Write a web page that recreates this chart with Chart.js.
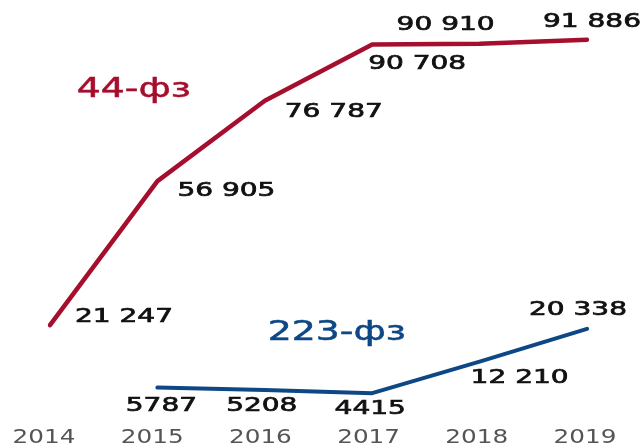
<!DOCTYPE html>
<html lang="ru">
<head>
<meta charset="utf-8">
<script src="https://cdn.jsdelivr.net/npm/chart.js@4"></script>
<style>
  html, body { margin: 0; padding: 0; background: #fff; }
  #wrap { width: 644px; height: 448px; position: relative; }
</style>
</head>
<body>
<div id="wrap"><canvas id="chart"></canvas></div>
<script>
// Годы
const years = ['2014', '2015', '2016', '2017', '2018', '2019'];
// Количество по 44-ФЗ
const fz44 = [21247, 56905, 76787, 90708, 90910, 91886];
// Количество по 223-ФЗ (за 2014 нет данных)
const fz223 = [null, 5787, 5208, 4415, 12210, 20338];
// Подписи значений
const fz44Labels = ['21 247', '56 905', '76 787', '90 708', '90 910', '91 886'];
const fz223Labels = ['', '5787', '5208', '4415', '12 210', '20 338'];

// Смещения подписей от точек (px) и выравнивание
const fz44Offsets = [[25, -8, 'left'], [20, 10, 'left'], [20, 11, 'left'], [45, 19, 'center'], [-34, -19, 'center'], [5, -18, 'center']];
const fz223Offsets = [[0, 0, 'center'], [4, 18, 'center'], [-3, 16, 'center'], [-2, 16, 'center'], [40, 16, 'center'], [-9, -19, 'center']];

const RED = '#a50f2d';
const BLUE = '#0e4785';
const FONT = '"DejaVu Sans", Verdana, sans-serif';

// Текст, растянутый по горизонтали, как в оригинале
function stretchText(ctx, text, x, y, size, color, align, sx, weight) {
  ctx.save();
  ctx.font = size + 'px ' + FONT;
  ctx.fillStyle = color;
  ctx.strokeStyle = color;
  ctx.textBaseline = 'middle';
  const w = ctx.measureText(text).width * sx;
  let left = x;
  if (align === 'center') left = x - w / 2;
  if (align === 'right') left = x - w;
  ctx.translate(left, y);
  ctx.scale(sx, 1);
  ctx.textAlign = 'left';
  ctx.fillText(text, 0, 0);
  if (weight) {
    ctx.lineWidth = weight;
    ctx.strokeText(text, 0, 0);
  }
  ctx.restore();
}

const labelsPlugin = {
  id: 'labelsPlugin',
  afterDatasetsDraw(chart) {
    const ctx = chart.ctx;
    const xs = chart.scales.x;
    const ys = chart.scales.y;

    // Подписи значений
    [[0, fz44Labels, fz44Offsets], [1, fz223Labels, fz223Offsets]].forEach(function (set) {
      const meta = chart.getDatasetMeta(set[0]);
      meta.data.forEach(function (pt, i) {
        const text = set[1][i];
        if (!text || pt.skip) return;
        const off = set[2][i];
        stretchText(ctx, text, pt.x + off[0], pt.y + off[1], 20, '#111', off[2], 1.4, 0.7);
      });
    });

    // Годы по оси X
    years.forEach(function (y, i) {
      stretchText(ctx, y, xs.getPixelForValue(i) - 6 + i * 0.8, 438, 19, '#555', 'center', 1.3, 0);
    });

    // Названия серий
    stretchText(ctx, '44-фз', xs.getPixelForValue(0.78), ys.getPixelForValue(79500), 27, RED, 'center', 1.4, 0.5);
    stretchText(ctx, '223-фз', xs.getPixelForValue(2.67), ys.getPixelForValue(19300), 27, BLUE, 'center', 1.4, 0.5);
  }
};

new Chart(document.getElementById('chart'), {
  type: 'line',
  data: {
    labels: years,
    datasets: [
      {
        label: '44-фз',
        data: fz44,
        borderColor: RED,
        borderWidth: 4.5,
        pointRadius: 0,
        tension: 0,
        borderCapStyle: 'round',
        borderJoinStyle: 'round'
      },
      {
        label: '223-фз',
        data: fz223,
        borderColor: BLUE,
        borderWidth: 4,
        pointRadius: 0,
        tension: 0,
        borderCapStyle: 'round',
        borderJoinStyle: 'round'
      }
    ]
  },
  options: {
    responsive: true,
    maintainAspectRatio: false,
    animation: false,
    layout: { padding: { left: 50, right: 57, top: 7, bottom: 37 } },
    plugins: {
      legend: { display: false },
      tooltip: { enabled: false }
    },
    scales: {
      x: { display: false, offset: false },
      y: { display: false, min: 0, max: 100000 }
    }
  },
  plugins: [labelsPlugin]
});
</script>
</body>
</html>
